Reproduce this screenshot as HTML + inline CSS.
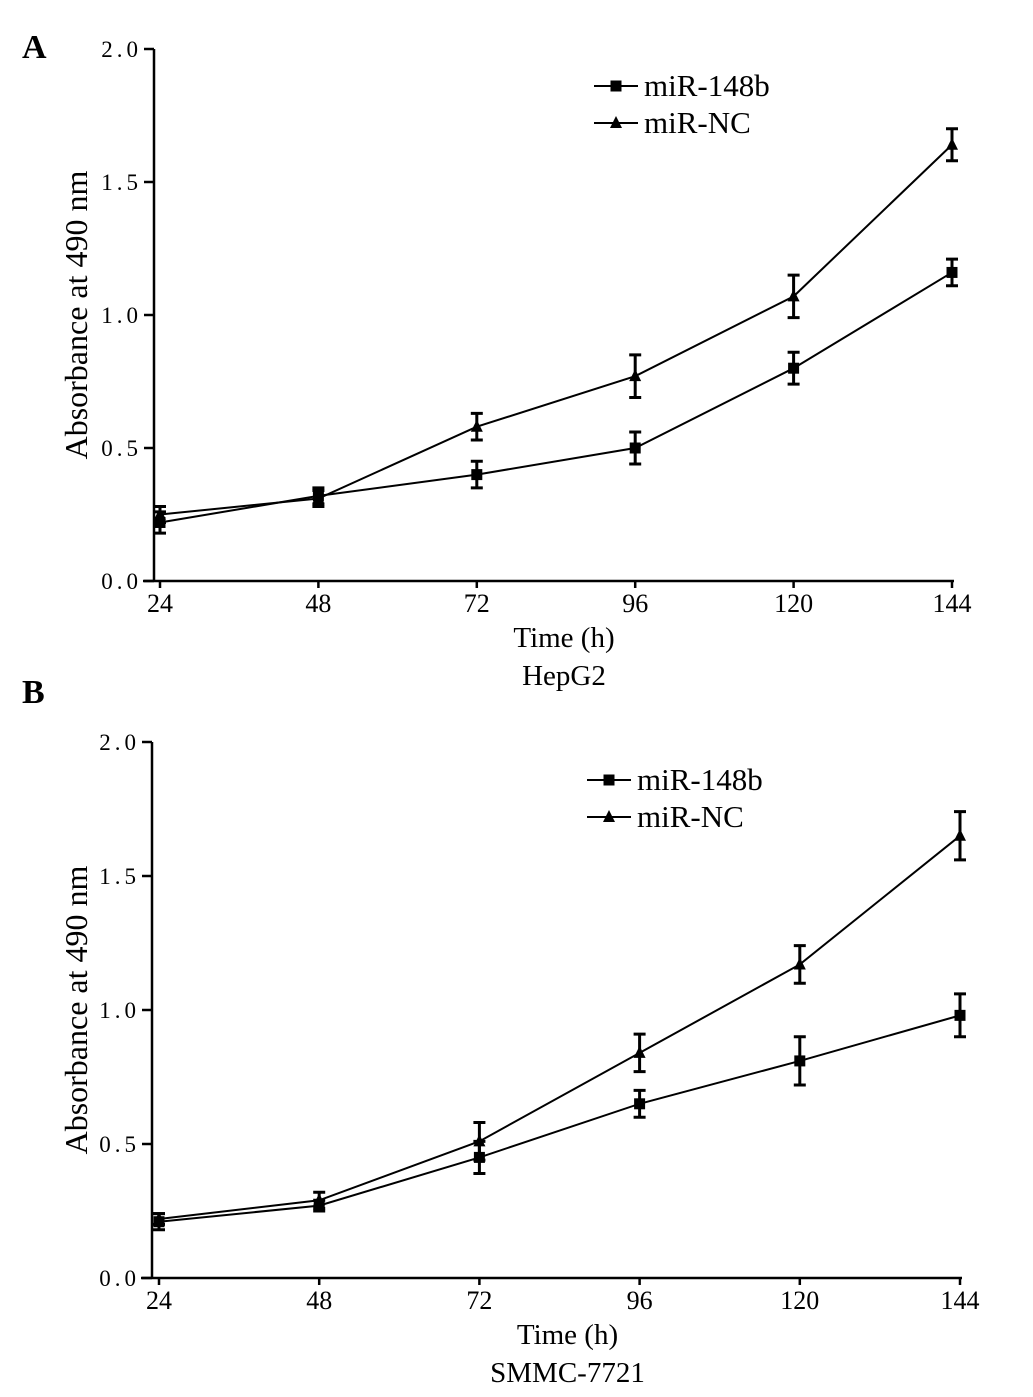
<!DOCTYPE html>
<html><head><meta charset="utf-8">
<style>
body{margin:0;background:#fff;}
svg{display:block;font-family:"Liberation Serif",serif;}
</style></head>
<body>
<svg id="fig" width="1033" height="1397" viewBox="0 0 1033 1397"></svg>
<script>
const xCats=[24,48,72,96,120,144];
const yTicks=[0.0,0.5,1.0,1.5,2.0];
const yTickLabels=["0.0","0.5","1.0","1.5","2.0"];
const a148=[0.22,0.32,0.40,0.50,0.80,1.16];
const a148Err=[0.04,0.03,0.05,0.06,0.06,0.05];
const aNC=[0.25,0.31,0.58,0.77,1.07,1.64];
const aNCErr=[0.03,0.03,0.05,0.08,0.08,0.06];
const b148=[0.21,0.27,0.45,0.65,0.81,0.98];
const b148Err=[0.03,0.02,0.06,0.05,0.09,0.08];
const bNC=[0.22,0.29,0.51,0.84,1.17,1.65];
const bNCErr=[0.02,0.03,0.07,0.07,0.07,0.09];

const NS="http://www.w3.org/2000/svg";
const svg=document.getElementById('fig');
function el(tag,attrs,parent,text){const e=document.createElementNS(NS,tag);for(const k in attrs)e.setAttribute(k,attrs[k]);if(text!==undefined)e.textContent=text;(parent||svg).appendChild(e);return e;}

function panel(p){
  const g=el('g',{});
  
  
  const X=v=>p.x0+(v-24)/(144-24)*(p.x1-p.x0);
  const Y=v=>p.y0-v/2*(p.y0-p.y2);
  const t=el('text',{x:p.letterX,y:p.letterY,'font-size':34,'font-weight':'bold'},g,p.letter);
  
  
  const ya=el('line',{x1:p.ax,y1:Y(2),x2:p.ax,y2:p.y0,stroke:'#000','stroke-width':2.5},g);
  
  
  const xa=el('line',{x1:p.ax-11,y1:p.y0,x2:X(144)+2,y2:p.y0,stroke:'#000','stroke-width':2.5},g);
  
  
  yTicks.forEach((v,i)=>{
    el('line',{x1:p.ax-10,y1:Y(v),x2:p.ax,y2:Y(v),stroke:'#000','stroke-width':2.5},g);
    const l=el('text',{x:p.ax-12,y:Y(v)+8,'font-size':23,'letter-spacing':4,'text-anchor':'end'},g,yTickLabels[i]);
    
    
  });
  xCats.forEach(c=>{
    el('line',{x1:X(c),y1:p.y0,x2:X(c),y2:p.y0+7,stroke:'#000','stroke-width':2.5},g);
    const l=el('text',{x:X(c),y:p.y0+31,'font-size':26,'text-anchor':'middle'},g,String(c));
    
    
  });
  const xt=el('text',{x:(p.x0+p.x1)/2+8,y:p.y0+66,'font-size':29,'text-anchor':'middle'},g,'Time (h)');
  
  
  const ct=el('text',{x:(p.x0+p.x1)/2+8,y:p.y0+104,'font-size':29,'text-anchor':'middle'},g,p.cell);
  
  
  const cy=(p.y0+Y(2))/2;
  const yt=el('text',{x:87,y:cy,'font-size':32,'text-anchor':'middle',transform:`rotate(-90 87 ${cy})`},g,'Absorbance at 490 nm');
  
  
  function series(vals,errs,marker,name){
    const sg=el('g',{},g);
    
    
    el('polyline',{points:vals.map((v,i)=>X(xCats[i])+','+Y(v)).join(' '),fill:'none',stroke:'#000','stroke-width':2},sg);
    vals.forEach((v,i)=>{
      const x=X(xCats[i]),yh=Y(v+errs[i]),yl=Y(v-errs[i]);
      el('path',{d:`M${x},${yh}V${yl}M${x-6},${yh}H${x+6}M${x-6},${yl}H${x+6}`,stroke:'#000','stroke-width':3,fill:'none'},sg);
      drawMarker(sg,marker,x,Y(v));
    });
  }
  series(p.s148,p.e148,'sq','series-mir-148b');
  series(p.sNC,p.eNC,'tri','series-mir-nc');
  const lg=el('g',{},g);
  
  
  [['sq','miR-148b'],['tri','miR-NC']].forEach((d,i)=>{
    const ly=p.legY+i*37;
    el('line',{x1:p.legX,y1:ly,x2:p.legX+44,y2:ly,stroke:'#000','stroke-width':2},lg);
    drawMarker(lg,d[0],p.legX+22,ly);
    const lt=el('text',{x:p.legX+50,y:ly+10,'font-size':31},lg,d[1]);
    
    
  });
}
function drawMarker(g,m,x,y){
  if(m==='sq')el('rect',{x:x-5.5,y:y-5.5,width:11,height:11,fill:'#000'},g);
  else el('polygon',{points:`${x},${y-7} ${x-6},${y+5} ${x+6},${y+5}`,fill:'#000'},g);
}
panel({name:'panel-a-hepg2',letter:'A',letterX:22,letterY:58,cell:'HepG2',ax:154,x0:160,x1:952,y0:581,y2:49,s148:a148,e148:a148Err,sNC:aNC,eNC:aNCErr,legX:594,legY:86});
panel({name:'panel-b-smmc7721',letter:'B',letterX:22,letterY:703,cell:'SMMC-7721',ax:152,x0:159,x1:960,y0:1278,y2:742,s148:b148,e148:b148Err,sNC:bNC,eNC:bNCErr,legX:587,legY:780});
</script>
</body></html>
